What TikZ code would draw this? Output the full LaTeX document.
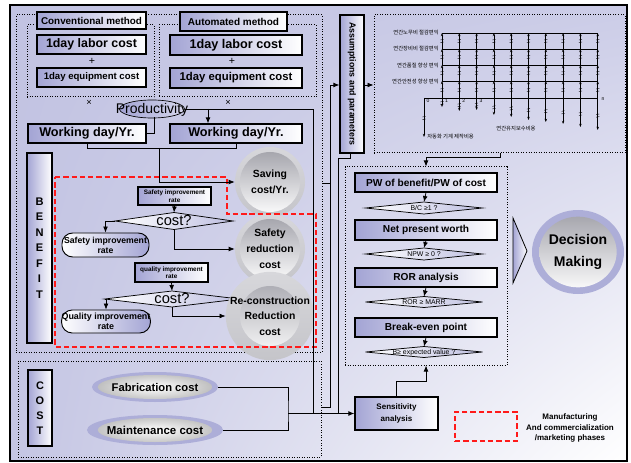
\documentclass[tikz,border=0pt]{standalone}
\usepackage{fontspec}
\usepackage{graphicx}
\setmainfont{Liberation Sans}
\newfontfamily\krfont{Noto Sans CJK KR}
\usetikzlibrary{shapes.geometric,arrows.meta,calc,shadings}
\definecolor{bgA}{HTML}{C2C3E2}
\definecolor{bgB}{HTML}{CBCCE7}
\definecolor{bgC}{HTML}{C4C5E3}
\definecolor{boxL}{HTML}{A3A4D4}
\definecolor{haloL}{HTML}{ADAED8}
\definecolor{haloG}{HTML}{CDCDD2}
\definecolor{sphTop}{HTML}{A0A0A8}
\definecolor{dashR}{HTML}{FF1A1A}
\newcommand\fs[2]{\fontsize{#1}{#2}\selectfont}
\newcommand\zb[3]{\makebox[0pt]{\fs{#1}{#2}\raisebox{-0.3em}[0pt][0pt]{#3}}}
\newcommand\rbox[7]{\node[#6, minimum width={(#4-#2)*0.75pt}, minimum height={(#5-#3)*0.75pt}] (#1) at ({(#2+#4)/2},{(#3+#5)/2}) {#7};}
\tikzset{
 gbox/.style={draw=black, line width=0.9pt, left color=boxL, right color=white, inner sep=0pt, align=center, font=\bfseries},
 dotbox/.style={draw=black, line width=0.75pt, dash pattern=on 0.6pt off 1.3pt, inner sep=0pt},
 reddash/.style={draw=dashR, line width=1.1pt, dash pattern=on 4pt off 2.2pt, inner sep=0pt},
 conn/.style={draw=black, line width=0.55pt},
 arr/.style={conn, -{Latex[length=4.5pt,width=3.6pt]}},
 dia/.style={diamond, draw=black, line width=0.55pt, left color=white, right color=boxL!70, inner sep=0pt, outer sep=0pt},
 rnd/.style={draw=black, line width=0.7pt, rounded corners=8pt, left color=white, right color=boxL, inner sep=0pt, align=center, font=\bfseries},
 sph/.style n args={2}{circle, inner sep=0pt, top color=haloG!80!white, bottom color=haloG!96!black, minimum size=#1, align=center, font=\bfseries,
   path picture={\shade[top color=sphTop, bottom color=white] (path picture bounding box.center) circle (#2);}},
 costell/.style={ellipse, inner sep=0pt, fill=haloL, minimum width=94.5pt, minimum height=22.5pt, font=\bfseries\fs{8.4}{10},
   path picture={\shade[inner color=white, outer color=gray!55] (path picture bounding box.center) ellipse (43pt and 9pt);}},
 prodell/.style={ellipse, draw=black, line width=0.5pt, left color=boxL, right color=boxL!45!white, inner sep=0pt, minimum width=48.75pt, minimum height=13.5pt},
 plain/.style={inner sep=0pt},
 tip/.style={-{Stealth[length=2.4pt,width=1.8pt]}},
 kr/.style={inner sep=0pt, font=\krfont\fs{4}{5}}
}
\begin{document}
\begin{tikzpicture}[x=0.75pt,y=-0.75pt]
\useasboundingbox (0,0) rectangle (631,463);
\fill[white] (0,0) rectangle (631,463);
\shade[upper left=bgA, upper right=bgB, lower left=bgC, lower right=white] (10,5) rectangle (627,461);
\draw[line width=1.4pt] (10,5) rectangle (627,461);

% dotted groups
\rbox{leftgrp}{16}{15}{322}{352}{dotbox}{}
\rbox{convgrp}{27}{25}{154}{97}{dotbox}{}
\rbox{autogrp}{159}{25}{316}{97}{dotbox}{}
\rbox{costgrp}{18}{361}{321}{457}{dotbox}{}
\rbox{cfbox}{374}{15}{625}{153}{dotbox}{}
\rbox{evalbox}{345}{167}{507}{365}{dotbox}{}

% top method boxes
\rbox{conv}{37}{12}{146}{29}{gbox,font=\bfseries\fs{7.4}{8}}{Conventional method}
\rbox{auto}{180}{12}{287}{31}{gbox,font=\bfseries\fs{7.5}{8}}{Automated method}
\rbox{labL}{37}{35}{146}{54}{gbox,font=\bfseries\fs{9.3}{10}}{1day labor cost}
\rbox{labR}{170}{35}{302}{55}{gbox,font=\bfseries\fs{9.5}{10}}{1day labor cost}
\node[plain,font=\fs{8}{9}] (plusL) at (92,61) {+};
\node[plain,font=\fs{8}{9}] (plusR) at (232,61) {+};
\rbox{eqL}{37}{68}{146}{87}{gbox,font=\bfseries\fs{7.2}{8}}{1day equipment cost}
\rbox{eqR}{170}{68}{302}{88}{gbox,font=\bfseries\fs{8.5}{9}}{1day equipment cost}
\node[plain,font=\fs{7}{8}] (timesL) at (89,103) {×};
\node[plain,font=\fs{7}{8}] (timesR) at (228,103) {×};
\node[prodell] (prod) at (152,109) {\zb{10.5}{12}{Productivity}};
\rbox{wdL}{28}{124}{146}{143}{gbox,font=\bfseries\fs{9.5}{10}}{Working day/Yr.}
\rbox{wdR}{170}{124}{302}{143}{gbox,font=\bfseries\fs{9.5}{10}}{Working day/Yr.}

% benefit
\rbox{benefit}{27}{153}{52}{343}{gbox,font=\bfseries\fs{8.3}{11.6}}{B\\E\\N\\E\\F\\I\\T}
\rbox{sir}{138}{187}{211}{205}{gbox,line width=0.8pt,font=\bfseries\fs{4.8}{5.6}}{Safety improvement\\rate}
\node[dia, minimum width=88.5pt, minimum height=12.75pt] (d1) at (174,221) {\zb{11}{12}{cost?}};
\rbox{srb}{62}{233}{149}{257}{rnd,font=\bfseries\fs{6.5}{7.5}}{Safety improvement\\rate}
\rbox{qir}{135}{263}{208}{282}{gbox,line width=0.8pt,font=\bfseries\fs{4.8}{5.6}}{quality improvement\\rate}
\node[dia, minimum width=101pt, minimum height=12pt] (d2) at (172,299) {\zb{11}{12}{cost?}};
\rbox{qrb}{62}{310}{150}{333}{rnd,font=\bfseries\fs{6.7}{7.5}}{Quality improvement\\rate}
\node[sph={52.5pt}{22.5pt}, font=\bfseries\fs{7.8}{12}] (save) at (270,182) {Saving\\cost/Yr.};
\node[sph={52.5pt}{22.5pt}, font=\bfseries\fs{7.8}{12}] (safe) at (270,249) {Safety\\reduction\\cost};
\node[sph={52.5pt}{22.5pt}, font=\bfseries\fs{7.8}{11.5}] (recon) at (270,316) {Re-construction\\Reduction\\cost};

% red dashed region
\draw[reddash] (55,177) -- (227,177) -- (227,214) -- (316,214) -- (316,347) -- (55,347) -- cycle;

% assumptions
\rbox{assum}{340}{15}{364}{153}{gbox}{\rotatebox{-90}{\bfseries\fs{6.6}{7}Assumptions and parameters}}

% cash flow diagram
\begin{scope}[line width=0.55pt]
\foreach \y in {33,49,65,81} \draw (442,\y) -- (598,\y);
\draw (424,98) -- (598,98);
\foreach \i/\e in {0/107,1/111,2/110,3/115,4/117,5/120,6/122,7/124,8/127,9/130} {
  \pgfmathsetmacro\xx{442+\i*17.3}
  \foreach \a/\b in {98/81,81/65,65/49,49/33} \draw[tip] (\xx,\a) -- (\xx,\b);
  \draw[tip] (\xx,98) -- (\xx,\e);
  \foreach \m in {90,73,57,41} {
    \draw[line width=0.3pt] (\xx-1.6,\m-1) -- (\xx+1.6,\m-1.6) (\xx-1.6,\m+1.6) -- (\xx+1.6,\m+1);
  }
  \pgfmathsetmacro\mm{98+(\e-98)*0.55}
  \draw[line width=0.3pt] (\xx-1.6,\mm-1) -- (\xx+1.6,\mm-1.6) (\xx-1.6,\mm+1.6) -- (\xx+1.6,\mm+1);
}
\draw[tip] (424,98) -- (424,137);
\draw[line width=0.3pt] (422.4,117) -- (425.6,116.4) (422.4,119.6) -- (425.6,119);
\end{scope}
\node[kr, anchor=east] (k1) at (439,33) {연간노무비 절감편익};
\node[kr, anchor=east] (k2) at (439,49) {연간장비비 절감편익};
\node[kr, anchor=east] (k3) at (439,65) {연간품질 향상 편익};
\node[kr, anchor=east] (k4) at (439,81) {연간안전성 향상 편익};
\node[kr] (k5) at (516,129) {연간유지보수비용};
\node[kr, anchor=west] (k6) at (427,137) {자동화 기계 제작비용};
\node[plain,font=\fs{3.8}{4}] (n0) at (428,101) {0};
\node[plain,font=\fs{3.8}{4}] (n1) at (446.5,101) {1};
\node[plain,font=\fs{3.8}{4}] (n2) at (463.8,101) {2};
\node[plain,font=\fs{3.8}{4}] (n3) at (481.1,101) {3};
\node[plain,font=\fs{3.8}{4}] (nn) at (603,99) {n};

% evaluation
\rbox{pw}{355}{173}{497}{192}{gbox,font=\bfseries\fs{7.6}{8}}{PW of benefit/PW of cost}
\node[dia, minimum width=87.75pt, minimum height=9pt] (dd1) at (424,208) {\zb{5.2}{6}{B/C ≥1 ?}};
\rbox{npw}{355}{220}{497}{240}{gbox,font=\bfseries\fs{7.6}{8}}{Net present worth}
\node[dia, minimum width=87.75pt, minimum height=9pt] (dd2) at (424,254) {\zb{5.2}{6}{NPW ≥ 0 ?}};
\rbox{ror}{355}{268}{497}{287}{gbox,font=\bfseries\fs{7.6}{8}}{ROR analysis}
\node[dia, minimum width=87.75pt, minimum height=8.25pt] (dd3) at (424,302) {\zb{5.2}{6}{ROR ≥ MARR}};
\rbox{bep}{355}{318}{497}{337}{gbox,font=\bfseries\fs{7.6}{8}}{Break-even point}
\node[dia, minimum width=87.75pt, minimum height=8.25pt] (dd4) at (424,352) {\zb{5.2}{6}{B≥ expected value ?}};

% decision
\draw[line width=0.6pt, left color=boxL, right color=white] (513,218) -- (527,251) -- (513,283) -- cycle;
\node[ellipse, inner sep=0pt, fill=haloL, minimum width=69pt, minimum height=63pt, align=center, font=\bfseries\fs{10.5}{16},
  path picture={\shade[top color=sphTop, bottom color=white] (path picture bounding box.center) ellipse (29pt and 26.5pt);}] (dec) at (578,252) {Decision\\Making};

% cost
\rbox{costlbl}{28}{370}{52}{446}{gbox,font=\bfseries\fs{8.2}{11.25}}{C\\O\\S\\T}
\node[costell] (fab) at (155,387) {Fabrication cost};
\node[costell, font=\bfseries\fs{8.6}{10}] (maint) at (155,430) {Maintenance cost};
\rbox{sens}{355}{397}{438}{430}{gbox,font=\bfseries\fs{6}{9}}{Sensitivity\\analysis}

% legend
\rbox{legbox}{455}{412}{517}{441}{reddash}{}
\node[align=center, inner sep=0pt, font=\bfseries\fs{6}{8}] (legtxt) at (570,428) {Manufacturing\\And commercialization\\/marketing phases};

% connectors
\coordinate (pR) at (313,109);
\coordinate (jn) at (288,413.5);
\coordinate (pB) at (313,413.5);
\coordinate (pD) at (208,109);
\coordinate (pL) at (154,117);
\coordinate (wm) at (159,148);
\draw[conn] (prod.east) -- (pR) -- (pB);
\draw[arr] (pD) -- (pD |- wdR.north);
\draw[conn] (pL) |- (wdL.east);
\draw[conn] (wdL.south) -- ++(0,5) -| (wdR.south);
\draw[arr] (wm) |- (save.west);
\draw[arr] (sir.south) -- (d1.north);
\draw[arr] (d1.west) -| (srb.north);
\draw[arr] (d1.south) |- (safe.west);
\draw[arr] (qir.south) -- (d2.north);
\draw[arr] (d2.west) -| (qrb.north);
\draw[arr] (d2.south) |- (recon.west);
\draw[conn] (fab.east) -| (jn) |- (maint.east);
\draw[arr] (jn) -- (sens.west);
\coordinate (s1) at (322,407);
\coordinate (aIn) at (330,85);
\coordinate (t1) at (322,183);
\coordinate (t2) at (330,183);
\draw[arr] (s1) -| (aIn) -- (aIn -| assum.west);
\draw[conn] (t1) -- (t2);
\draw[arr] (assum.east |- aIn) -- (cfbox.west |- aIn);
\coordinate (aB) at (350,153);
\coordinate (aJ) at (338,413.5);
\draw[conn] (aB) -- ++(0,5) -| (aJ);
\coordinate (cB) at (500,153);
\draw[arr] (cB) -- ++(0,4) -| (evalbox.north);
\draw[arr] (pw.south) -- (dd1.north);
\draw[arr] (npw.south) -- (dd2.north);
\draw[arr] (ror.south) -- (dd3.north);
\draw[arr] (bep.south) -- (dd4.north);
\draw[arr] (sens.north) -- ++(0,-15) -| (evalbox.south);
\end{tikzpicture}
\end{document}
